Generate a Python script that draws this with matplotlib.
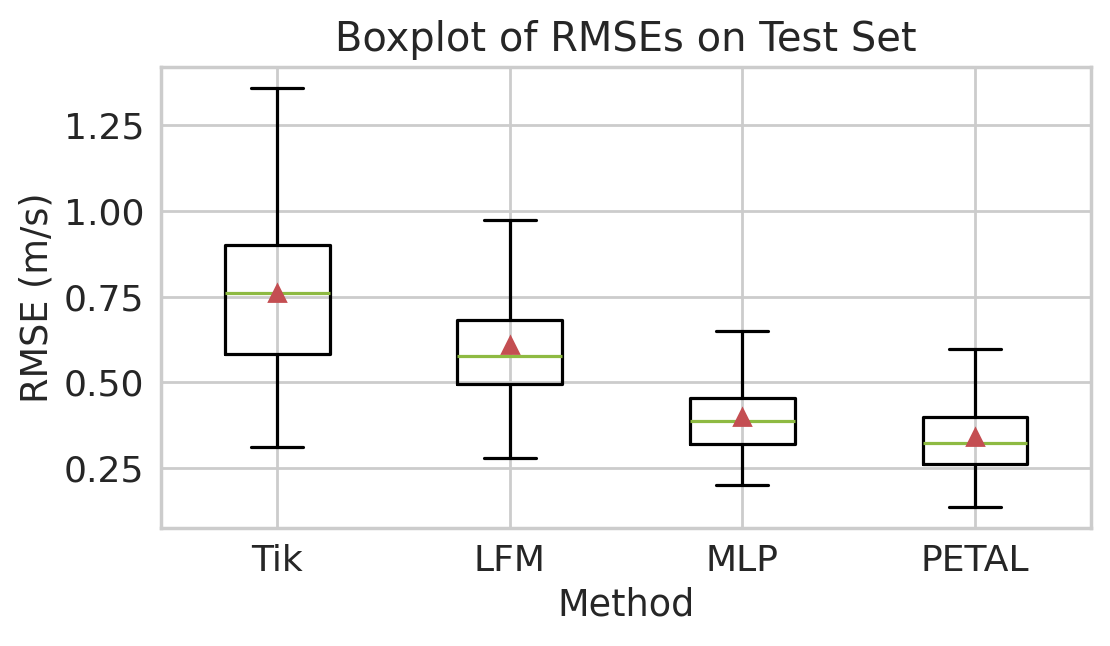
import matplotlib
matplotlib.use('Agg')
import matplotlib.pyplot as plt
from matplotlib.ticker import MultipleLocator
import seaborn as sns

sns.set_theme(style='whitegrid', font_scale=1.1)

methods = ['Tik', 'LFM', 'MLP', 'PETAL']
whislo = [0.311, 0.279, 0.201, 0.137]
q1 = [0.584, 0.494, 0.320, 0.262]
med = [0.762, 0.576, 0.387, 0.323]
q3 = [0.901, 0.683, 0.453, 0.398]
whishi = [1.358, 0.974, 0.651, 0.596]
means = [0.760, 0.608, 0.398, 0.340]

stats = []
for i in range(len(methods)):
    stats.append(dict(label=methods[i], whislo=whislo[i], q1=q1[i], med=med[i],
                      q3=q3[i], whishi=whishi[i], mean=means[i], fliers=[]))

fig, ax = plt.subplots(figsize=(5.55, 3.23), dpi=200)
ax.bxp(stats, showmeans=True, widths=0.45,
       boxprops=dict(color='black', linewidth=1.15),
       whiskerprops=dict(color='black', linewidth=1.15),
       capprops=dict(color='black', linewidth=1.15),
       medianprops=dict(color='#8EBA42', linewidth=1.15),
       meanprops=dict(marker='^', markerfacecolor='#C44E52', markeredgecolor='#C44E52', markersize=6))
ax.yaxis.set_major_locator(MultipleLocator(0.25))
ax.set_title('Boxplot of RMSEs on Test Set', fontsize=14.4)
ax.set_xlabel('Method', fontsize=13.2, labelpad=3)
ax.set_ylabel('RMSE (m/s)', fontsize=13.2, labelpad=3)
ax.tick_params(labelsize=13, length=0, pad=6)
fig.subplots_adjust(left=0.145, right=0.983, top=0.896, bottom=0.183)
fig.savefig('out.png')
